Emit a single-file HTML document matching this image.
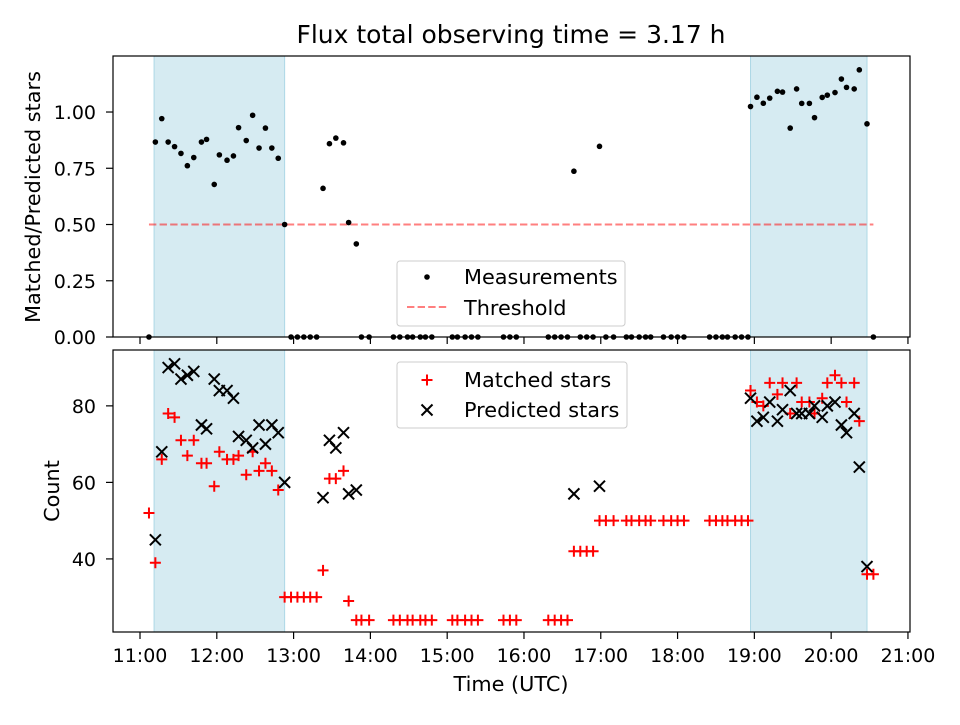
<!DOCTYPE html>
<html><head><meta charset="utf-8"><style>
body{margin:0;background:#fff}
svg text{font-family:"DejaVu Sans","Liberation Sans",sans-serif;fill:#000}
</style></head><body>
<svg id="c" width="960" height="720" xmlns="http://www.w3.org/2000/svg"></svg>
<script>
// minutes since 11:00 UTC
const times=[7,12,17,22,27,32,37,42,48,52,58,62,68,73,77,83,88,93,98,103,108,113,118,123,128,133,138,143,148,153,159,163,169,173,179,198,203,209,213,219,223,228,244,248,254,259,264,284,289,294,319,324,329,334,339,344,349,354,359,364,370,380,384,390,395,399,409,415,420,425,445,450,455,459,465,470,475,477,482,487,492,498,502,508,513,517,523,527,533,537,543,548,552,558,562,568,573];
const matched=[52,39,66,78,77,71,67,71,65,65,59,68,66,66,67,62,68,63,65,63,58,30,30,30,30,30,30,37,61,61,63,29,24,24,24,24,24,24,24,24,24,24,24,24,24,24,24,24,24,24,24,24,24,24,42,42,42,42,50,50,50,50,50,50,50,50,50,50,50,50,50,50,50,50,50,50,50,84,81,80,86,83,86,78,86,81,81,78,82,86,88,86,81,86,76,36,36];
const predicted=[null,45,68,90,91,87,88,89,75,74,87,84,84,82,72,71,69,75,70,75,73,60,null,null,null,null,null,56,71,69,73,57,58,null,null,null,null,null,null,null,null,null,null,null,null,null,null,null,null,null,null,null,null,null,57,null,null,null,59,null,null,null,null,null,null,null,null,null,null,null,null,null,null,null,null,null,null,82,76,77,81,76,79,84,78,78,78,80,77,80,81,75,73,78,64,38,null];
const spans=[[11,113],[477,568]];
const threshold=0.5;
const xTicks=[0,60,120,180,240,300,360,420,480,540,600];
const xTickLabels=["11:00","12:00","13:00","14:00","15:00","16:00","17:00","18:00","19:00","20:00","21:00"];
const yTopTicks=[0,0.25,0.5,0.75,1.0];
const yBotTicks=[40,60,80];

const svg=document.getElementById('c');
const NS='http://www.w3.org/2000/svg';
function mk(tag,attrs,parent){const e=document.createElementNS(NS,tag);for(const k in attrs)e.setAttribute(k,attrs[k]);(parent||svg).appendChild(e);return e;}
const L=113,R=910;
const xDom=[-21.1,601.6];
const X=t=>L+(t-xDom[0])/(xDom[1]-xDom[0])*(R-L);
const T1=56,B1=337,T2=350,B2=632;
const yTop=v=>B1-(v-0)/(1.249-0)*(B1-T1);
const yBot=v=>B2-(v-20.9)/(94.6-20.9)*(B2-T2);
const FS=19;

function panel(T,B,name){
  const g=mk('g',{});
  
  
  spans.forEach((s,i)=>{const r=mk('rect',{x:X(s[0]),y:T,width:X(s[1])-X(s[0]),height:B-T,fill:'#add8e6','fill-opacity':0.5,stroke:'#add8e6'},g);
    
    });
  return g;
}
const gt=panel(T1,B1,'ratio-panel');
const th=mk('line',{x1:X(times[0]),x2:X(times[times.length-1]),y1:yTop(threshold),y2:yTop(threshold),stroke:'#ff0000','stroke-opacity':0.5,'stroke-width':2,'stroke-dasharray':'7.4,3.2'},gt);


times.forEach((t,i)=>{const r=predicted[i]?matched[i]/predicted[i]:0;
  const c=mk('circle',{cx:X(t),cy:yTop(r),r:2.8,fill:'#000'},gt);
  
  });
const gb=panel(T2,B2,'count-panel');
times.forEach((t,i)=>{const x=X(t),y=yBot(matched[i]);
  const p=mk('path',{d:`M${x-5.5},${y}H${x+5.5}M${x},${y-5.5}V${y+5.5}`,stroke:'#ff0000','stroke-width':2,fill:'none'},gb);
  
  });
times.forEach((t,i)=>{if(predicted[i]==null)return;const x=X(t),y=yBot(predicted[i]);
  const p=mk('path',{d:`M${x-5.5},${y-5.5}L${x+5.5},${y+5.5}M${x-5.5},${y+5.5}L${x+5.5},${y-5.5}`,stroke:'#000','stroke-width':2,fill:'none'},gb);
  
  });
[[T1,B1,'top'],[T2,B2,'bottom']].forEach(([T,B,n])=>{
  const f=mk('rect',{x:L,y:T,width:R-L,height:B-T,fill:'none',stroke:'#000','stroke-width':1.2});
  
  
  xTicks.forEach((t,i)=>{mk('line',{x1:X(t),x2:X(t),y1:B,y2:B+7,stroke:'#000','stroke-width':1.2});
    if(n==='bottom'){const tx=mk('text',{x:X(t),y:B+30,'text-anchor':'middle','font-size':FS});tx.textContent=xTickLabels[i];
      
      }});
});
yTopTicks.forEach(v=>{const y=yTop(v);mk('line',{x1:L-7,x2:L,y1:y,y2:y,stroke:'#000','stroke-width':1.2});
  const tx=mk('text',{x:L-17,y:y+7,'text-anchor':'end','font-size':FS});tx.textContent=v.toFixed(2);
  
  });
yBotTicks.forEach(v=>{const y=yBot(v);mk('line',{x1:L-7,x2:L,y1:y,y2:y,stroke:'#000','stroke-width':1.2});
  const tx=mk('text',{x:L-17,y:y+7,'text-anchor':'end','font-size':FS});tx.textContent=v;
  
  });
</script>
<svg width="960" height="720" style="position:absolute;left:0;top:0" xmlns="http://www.w3.org/2000/svg">
<text x="511" y="43" text-anchor="middle" font-size="25">Flux total observing time = 3.17 h</text>
<text x="511" y="691" text-anchor="middle" font-size="20.8">Time (UTC)</text>
<text transform="translate(40,197) rotate(-90)" text-anchor="middle" font-size="20.8">Matched/Predicted stars</text>
<text transform="translate(59,491) rotate(-90)" text-anchor="middle" font-size="20.8">Count</text>
<g>
<rect x="397" y="261" width="228" height="65" rx="3" fill="#fff" fill-opacity="0.8" stroke="#ccc"/>
<circle cx="427" cy="277" r="2.8" fill="#000"/>
<text x="464" y="284" font-size="20.8">Measurements</text>
<line x1="407" x2="447" y1="307" y2="307" stroke="#ff0000" stroke-opacity="0.5" stroke-width="2" stroke-dasharray="7.4,3.2"/>
<text x="464" y="315" font-size="20.8">Threshold</text>
</g>
<g>
<rect x="397" y="362" width="230" height="66" rx="3" fill="#fff" fill-opacity="0.8" stroke="#ccc"/>
<path d="M421.5,380H432.5M427,374.5V385.5" stroke="#ff0000" stroke-width="2"/>
<text x="464" y="387" font-size="20.8">Matched stars</text>
<path d="M421.5,404.5L432.5,415.5M421.5,415.5L432.5,404.5" stroke="#000" stroke-width="2"/>
<text x="464" y="417" font-size="20.8">Predicted stars</text>
</g>
</svg>
</body></html>
